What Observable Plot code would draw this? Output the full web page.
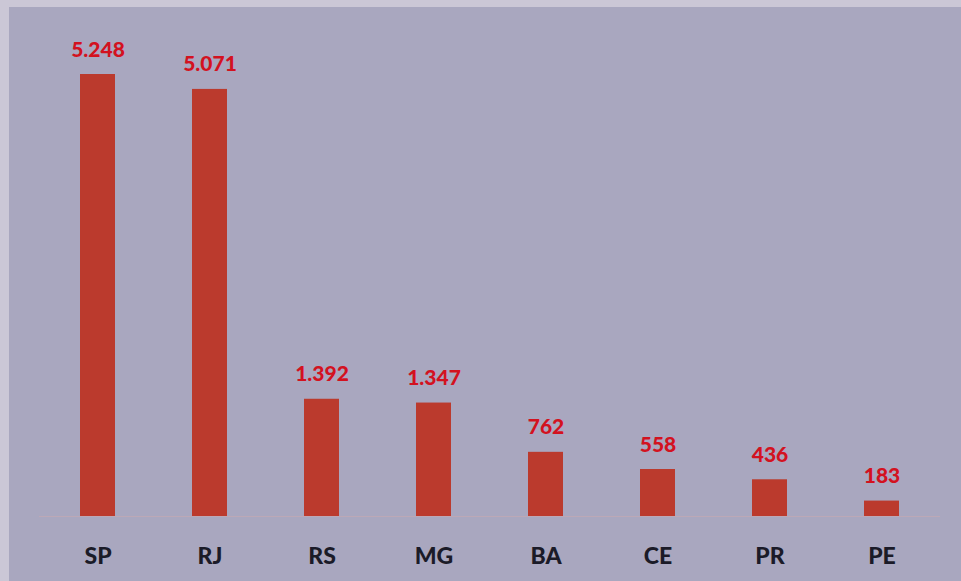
<!DOCTYPE html>
<html>
<head>
<meta charset="utf-8">
<script src="https://cdn.jsdelivr.net/npm/d3@7"></script>
<script src="https://cdn.jsdelivr.net/npm/@observablehq/plot@0.6"></script>
<style>
  html, body { margin: 0; padding: 0; }
  body { width: 961px; height: 581px; background: #cbc7d6; overflow: hidden; position: relative; }
  #chart { position: absolute; left: 9px; top: 7px; }
  #chart svg { background: #a9a7bf; display: block; }
</style>
</head>
<body>
<div id="chart"></div>
<script>
const states = ["SP", "RJ", "RS", "MG", "BA", "CE", "PR", "PE"];
const values = [5248, 5071, 1392, 1347, 762, 558, 436, 183];

const data = states.map((s, i) => ({state: s, value: values[i]}));
const br = d3.formatLocale({decimal: ",", thousands: ".", grouping: [3], currency: ["R$", ""]});
const fmt = br.format(",d");

const chart = Plot.plot({
  width: 952,
  height: 574,
  marginLeft: 30,
  marginRight: 21,
  marginTop: 67,
  marginBottom: 65,
  style: {fontFamily: "Lato, 'Open Sans', sans-serif", background: "#a9a7bf"},
  x: {domain: states, paddingInner: 0.69, paddingOuter: 0.345, label: null},
  y: {domain: [0, 5248], axis: null},
  marks: [
    Plot.ruleY([0], {stroke: "#c9a9b0", strokeOpacity: 0.6}),
    Plot.barY(data, {x: "state", y: "value", fill: "#bb3a2d"}),
    Plot.text(data, {x: "state", y: "value", text: d => fmt(d.value), lineAnchor: "bottom", dy: -18, fill: "#d3121f", fontSize: 21, fontWeight: 900}),
    Plot.axisX({tickSize: 0, tickPadding: 31, fontSize: 23, fontWeight: 900, fill: "#1b1b28", label: null})
  ]
});
document.getElementById("chart").appendChild(chart);
</script>
</body>
</html>
